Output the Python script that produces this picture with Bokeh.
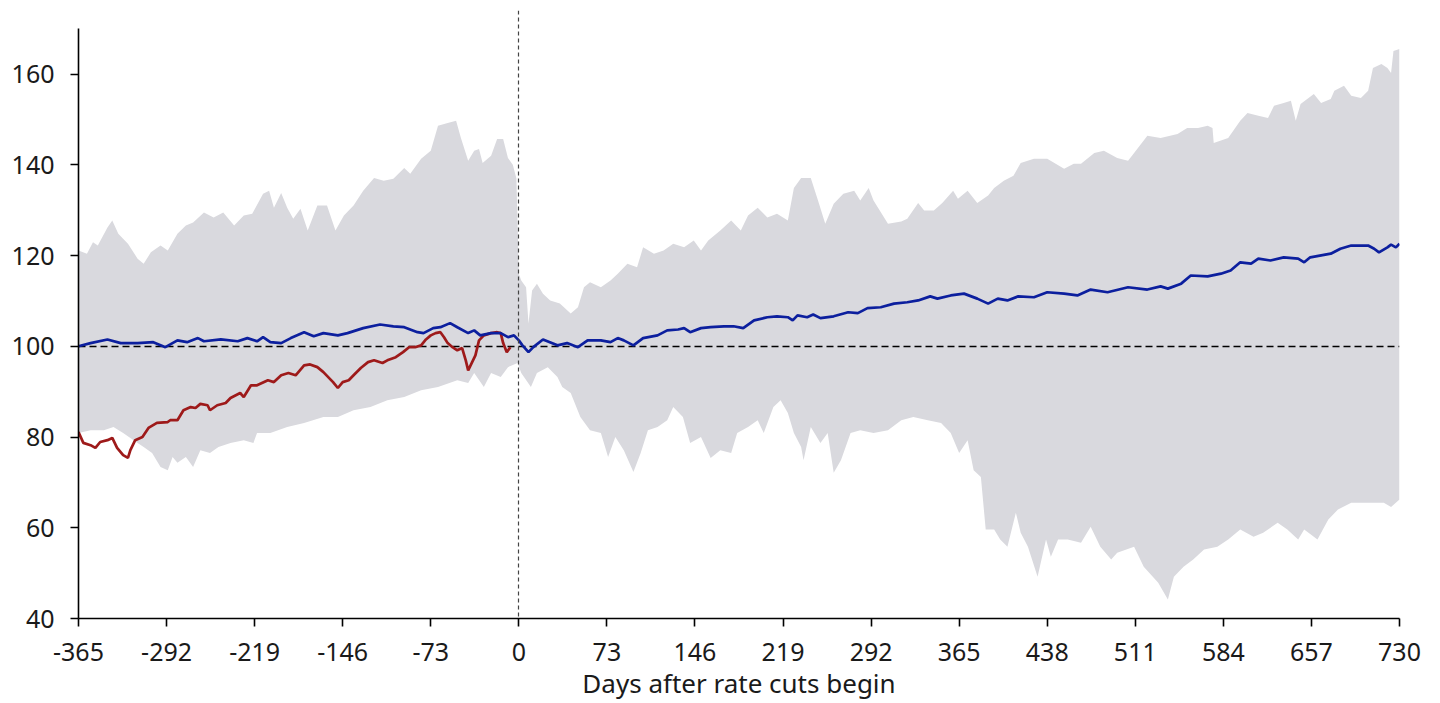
from bokeh.plotting import figure
from bokeh.models import FixedTicker, Range1d, PrintfTickFormatter
from bokeh.embed import file_html
from bokeh.resources import INLINE

# ---------------- data ----------------
x_ticks = [-365, -292, -219, -146, -73, 0, 73, 146, 219, 292, 365, 438, 511, 584, 657, 730]
y_ticks = [40, 60, 80, 100, 120, 140, 160]
x_title = "Days after rate cuts begin"
baseline = 100
cut_day = 0

upper_days = [-365, -358, -353, -349, -341, -337, -332, -324, -316, -311, -305, -297, -291, -283,
              -276, -270, -261, -253, -245, -236, -228, -221, -212, -207, -203, -197, -192, -187,
              -181, -175, -167, -159, -152, -145, -137, -129, -120, -112, -104, -95, -90, -81,
              -73, -67, -59, -52, -48, -42, -37, -33, -30, -23, -18, -13, -9, -5, -2, 0,
              2, 6, 8, 11, 15, 20, 26, 34, 43, 49, 54, 59, 68, 76, 82, 90, 98, 103, 112, 120,
              128, 137, 145, 151, 157, 167, 176, 184, 190, 198, 206, 214, 223, 228, 234, 242,
              248, 254, 261, 269, 278, 283, 290, 294, 306, 317, 322, 331, 336, 344, 351, 360,
              364, 372, 380, 389, 394, 402, 410, 416, 427, 438, 452, 460, 466, 477, 485, 496,
              505, 510, 521, 532, 546, 554, 563, 571, 575, 576, 588, 598, 604, 613, 621, 626,
              634, 640, 644, 648, 659, 665, 673, 676, 684, 690, 698, 704, 708, 715, 720, 723,
              725, 730]
upper_vals = [121.1, 120.4, 122.9, 122.2, 126.2, 127.7, 124.8, 122.6, 119.3, 118.2, 120.7, 122.2,
              121.1, 124.8, 126.6, 127.3, 129.5, 128.4, 129.5, 126.6, 128.8, 129.2, 133.6, 134.3,
              130.5, 133.8, 130.5, 128.1, 130.3, 125.5, 131.0, 131.0, 125.5, 128.8, 131.0, 134.3,
              137.1, 136.5, 136.9, 139.3, 138.0, 141.3, 143.1, 148.6, 149.2, 149.7, 145.9, 140.9,
              143.1, 143.5, 140.4, 142.0, 145.7, 145.7, 141.5, 140.0, 137.0, 116.0,
              114.5, 113.0, 105.0, 112.3, 113.8, 111.6, 110.1, 109.4, 107.2, 108.6, 113.0, 114.1,
              113.0, 114.5, 116.0, 118.2, 117.4, 121.8, 120.4, 121.1, 122.6, 121.8, 123.3, 121.1,
              123.3, 125.5, 127.7, 125.5, 128.8, 130.5, 128.4, 129.2, 127.7, 134.9, 137.1, 137.1,
              132.1, 127.0, 131.4, 133.6, 134.3, 132.1, 134.9, 132.1, 127.0, 127.5, 128.1, 131.6,
              129.9, 129.9, 131.6, 134.3, 132.5, 134.3, 131.6, 133.2, 134.9, 136.5, 137.6, 140.4,
              141.3, 141.3, 139.1, 140.2, 140.2, 142.6, 143.1, 141.5, 140.9, 142.6, 146.4, 145.9,
              146.8, 148.1, 148.1, 148.6, 148.1, 144.8, 145.9, 149.7, 151.4, 150.8, 150.3, 153.0,
              153.6, 154.1, 149.7, 153.4, 155.6, 153.6, 154.5, 156.3, 157.4, 155.2, 154.7, 156.3,
              161.3, 162.2, 161.3, 160.2, 165.1, 165.5]

lower_days = [-365, -355, -344, -336, -328, -316, -311, -304, -297, -291, -287, -283, -276, -270,
              -264, -256, -249, -239, -228, -220, -217, -206, -192, -178, -162, -150, -137, -123,
              -109, -95, -81, -67, -51, -42, -37, -29, -23, -15, -9, -1, 2, 10, 15, 24, 32, 36,
              43, 51, 59, 68, 74, 80, 87, 95, 101, 107, 115, 123, 128, 136, 142, 151, 159, 167,
              176, 181, 190, 198, 203, 211, 217, 223, 228, 234, 236, 242, 250, 256, 261, 267,
              275, 283, 294, 306, 317, 327, 339, 350, 358, 365, 372, 377, 383, 387, 394, 399,
              405, 412, 416, 422, 430, 437, 441, 447, 455, 466, 474, 482, 491, 496, 510, 518,
              530, 538, 543, 551, 559, 568, 579, 588, 598, 609, 617, 629, 637, 646, 651, 662,
              671, 679, 690, 704, 717, 723, 730]
lower_vals = [80.9, 81.5, 81.5, 82.2, 80.9, 78.7, 77.8, 76.5, 73.4, 72.7, 75.6, 74.3, 75.6, 73.4,
              77.1, 76.5, 77.8, 78.7, 79.3, 78.7, 80.9, 80.9, 82.2, 83.1, 84.4, 84.4, 85.9, 86.6,
              88.1, 88.8, 90.3, 91.0, 92.5, 91.9, 94.1, 91.0, 94.1, 93.2, 95.4, 96.3, 94.1, 91.0,
              94.1, 95.4, 93.2, 91.0, 89.7, 84.4, 81.5, 80.9, 75.6, 80.0, 77.1, 72.3, 76.5, 81.5,
              82.2, 83.7, 86.6, 84.4, 78.7, 80.0, 75.4, 77.1, 76.5, 80.9, 82.2, 83.7, 80.9, 86.6,
              88.1, 85.3, 80.9, 77.8, 74.9, 82.2, 78.7, 80.9, 72.1, 74.9, 80.9, 81.5, 80.9, 81.5,
              83.7, 84.4, 83.7, 83.1, 80.9, 76.5, 79.3, 72.7, 71.2, 59.6, 59.6, 57.4, 55.8, 63.3,
              58.9, 55.8, 49.2, 57.4, 53.6, 57.4, 57.4, 56.7, 60.2, 55.8, 53.0, 54.5, 55.8, 51.4,
              47.9, 44.2, 49.2, 51.4, 53.0, 55.2, 55.8, 57.4, 59.6, 58.0, 58.9, 61.1, 59.6, 57.4,
              59.6, 57.4, 61.8, 64.0, 65.5, 65.5, 65.5, 64.6, 66.2]

median_days = [-365, -355, -341, -330, -316, -303, -293, -283, -275, -266, -261, -247, -233, -225,
               -217, -212, -206, -197, -189, -178, -170, -162, -150, -142, -129, -115, -104, -95,
               -84, -79, -71, -65, -57, -51, -42, -37, -32, -23, -15, -9, -4, 0, 3, 8, 12, 20,
               32, 40, 49, 57, 68, 76, 82, 87, 95, 103, 115, 123, 132, 137, 142, 151, 159, 170,
               178, 186, 195, 206, 214, 223, 227, 231, 239, 244, 250, 261, 273, 281, 289, 300,
               311, 322, 331, 341, 347, 358, 369, 380, 389, 397, 405, 414, 427, 438, 452, 463,
               474, 488, 505, 521, 532, 538, 549, 557, 571, 582, 590, 598, 607, 613, 623, 634,
               646, 651, 656, 673, 681, 690, 704, 709, 713, 720, 723, 727, 730]
median_vals = [100.0, 100.7, 101.5, 100.7, 100.7, 100.9, 99.8, 101.3, 100.9, 101.8, 101.1, 101.5,
               101.1, 101.8, 101.1, 102.0, 100.9, 100.7, 101.8, 103.1, 102.2, 102.9, 102.4, 102.9,
               104.0, 104.8, 104.4, 104.2, 103.1, 102.9, 104.0, 104.2, 105.1, 104.2, 102.9, 103.5,
               102.4, 102.9, 102.9, 102.0, 102.4, 101.3, 100.2, 98.7, 99.8, 101.5, 100.2, 100.7,
               99.8, 101.3, 101.3, 100.9, 101.8, 101.3, 100.2, 101.8, 102.4, 103.5, 103.7, 104.0,
               103.1, 104.0, 104.2, 104.4, 104.4, 104.0, 105.7, 106.4, 106.6, 106.4, 105.7, 106.8,
               106.4, 107.0, 106.2, 106.6, 107.5, 107.3, 108.4, 108.6, 109.4, 109.7, 110.1, 111.0,
               110.5, 111.2, 111.6, 110.5, 109.4, 110.5, 110.1, 111.0, 110.8, 111.9, 111.6, 111.2,
               112.5, 111.9, 113.0, 112.5, 113.2, 112.7, 113.8, 115.6, 115.4, 116.0, 116.7, 118.5,
               118.2, 119.3, 118.9, 119.6, 119.3, 118.5, 119.6, 120.4, 121.5, 122.2, 122.2, 121.5,
               120.7, 121.8, 122.4, 121.8, 122.6]

current_days = [-365, -361, -355, -351, -347, -341, -337, -333, -328, -324, -322, -318, -312, -307,
                -300, -291, -289, -283, -278, -272, -268, -264, -258, -256, -250, -243, -239, -231,
                -228, -222, -217, -208, -203, -197, -191, -185, -178, -173, -167, -162, -154, -150,
                -146, -141, -137, -131, -125, -120, -113, -109, -102, -96, -91, -86, -81, -77, -73,
                -69, -65, -62, -59, -55, -51, -47, -44, -42, -40, -36, -33, -29, -23, -18, -15,
                -13, -10, -7]
current_vals = [81.1, 78.7, 78.2, 77.6, 78.9, 79.3, 79.8, 77.6, 76.0, 75.4, 77.1, 79.3, 80.0, 82.0,
                83.1, 83.3, 83.7, 83.7, 85.9, 86.6, 86.4, 87.3, 87.0, 85.9, 87.0, 87.5, 88.6, 89.7,
                88.8, 91.4, 91.4, 92.5, 92.1, 93.6, 94.1, 93.6, 95.8, 96.0, 95.4, 94.3, 92.1, 90.8,
                92.1, 92.5, 93.6, 95.2, 96.5, 96.9, 96.3, 96.9, 97.6, 98.7, 99.8, 99.8, 100.2, 101.5,
                102.4, 102.9, 103.1, 102.0, 100.7, 99.8, 99.1, 99.6, 96.9, 94.7, 95.8, 98.0, 101.3,
                102.4, 102.9, 103.1, 102.9, 100.7, 98.7, 99.8]

# ---------------- styling ----------------
BAND = "#d9d9de"
BLUE = "#0c1f9e"
RED = "#9e1a1a"
TXT = "#1a1a1a"
FONT = "Noto Sans"

p = figure(width=1432, height=703, output_backend="svg", toolbar_location=None,
           x_range=Range1d(x_ticks[0], x_ticks[-1]), y_range=Range1d(40, 174),
           min_border_left=78, min_border_right=33, min_border_top=10, min_border_bottom=84)
p.outline_line_color = None
p.xgrid.visible = False
p.ygrid.visible = False
p.background_fill_color = "white"

band_x = upper_days + lower_days[::-1]
band_y = upper_vals + lower_vals[::-1]
p.patch(band_x, band_y, fill_color=BAND, line_color=None)

p.hspan(y=[baseline], line_color="black", line_width=1.5, line_dash="7 4")
p.line(current_days, current_vals, line_color=RED, line_width=2.7)
p.line(median_days, median_vals, line_color=BLUE, line_width=2.7)
p.vspan(x=[cut_day], line_color="#444444", line_width=1.2, line_dash="4 3")

for ax in (p.xaxis[0], p.yaxis[0]):
    ax.axis_line_color = "black"
    ax.axis_line_width = 1.6
    ax.major_tick_line_color = "black"
    ax.major_tick_line_width = 1.6
    ax.major_tick_out = 8
    ax.major_tick_in = 0
    ax.minor_tick_line_color = None
    ax.major_label_text_font = FONT
    ax.major_label_text_font_size = "25px"
    ax.major_label_text_color = TXT
    ax.formatter = PrintfTickFormatter(format="%d")

p.xaxis.ticker = FixedTicker(ticks=x_ticks)
p.yaxis.ticker = FixedTicker(ticks=y_ticks)
p.yaxis.bounds = (40, 170)
p.xaxis.major_label_standoff = 16
p.yaxis.major_label_standoff = 16
p.xaxis.axis_label = x_title
p.xaxis.axis_label_text_font = FONT
p.xaxis.axis_label_text_font_size = "26px"
p.xaxis.axis_label_text_font_style = "normal"
p.xaxis.axis_label_text_color = TXT
p.xaxis.axis_label_standoff = 1

open("out.html", "w").write(file_html(p, INLINE))
